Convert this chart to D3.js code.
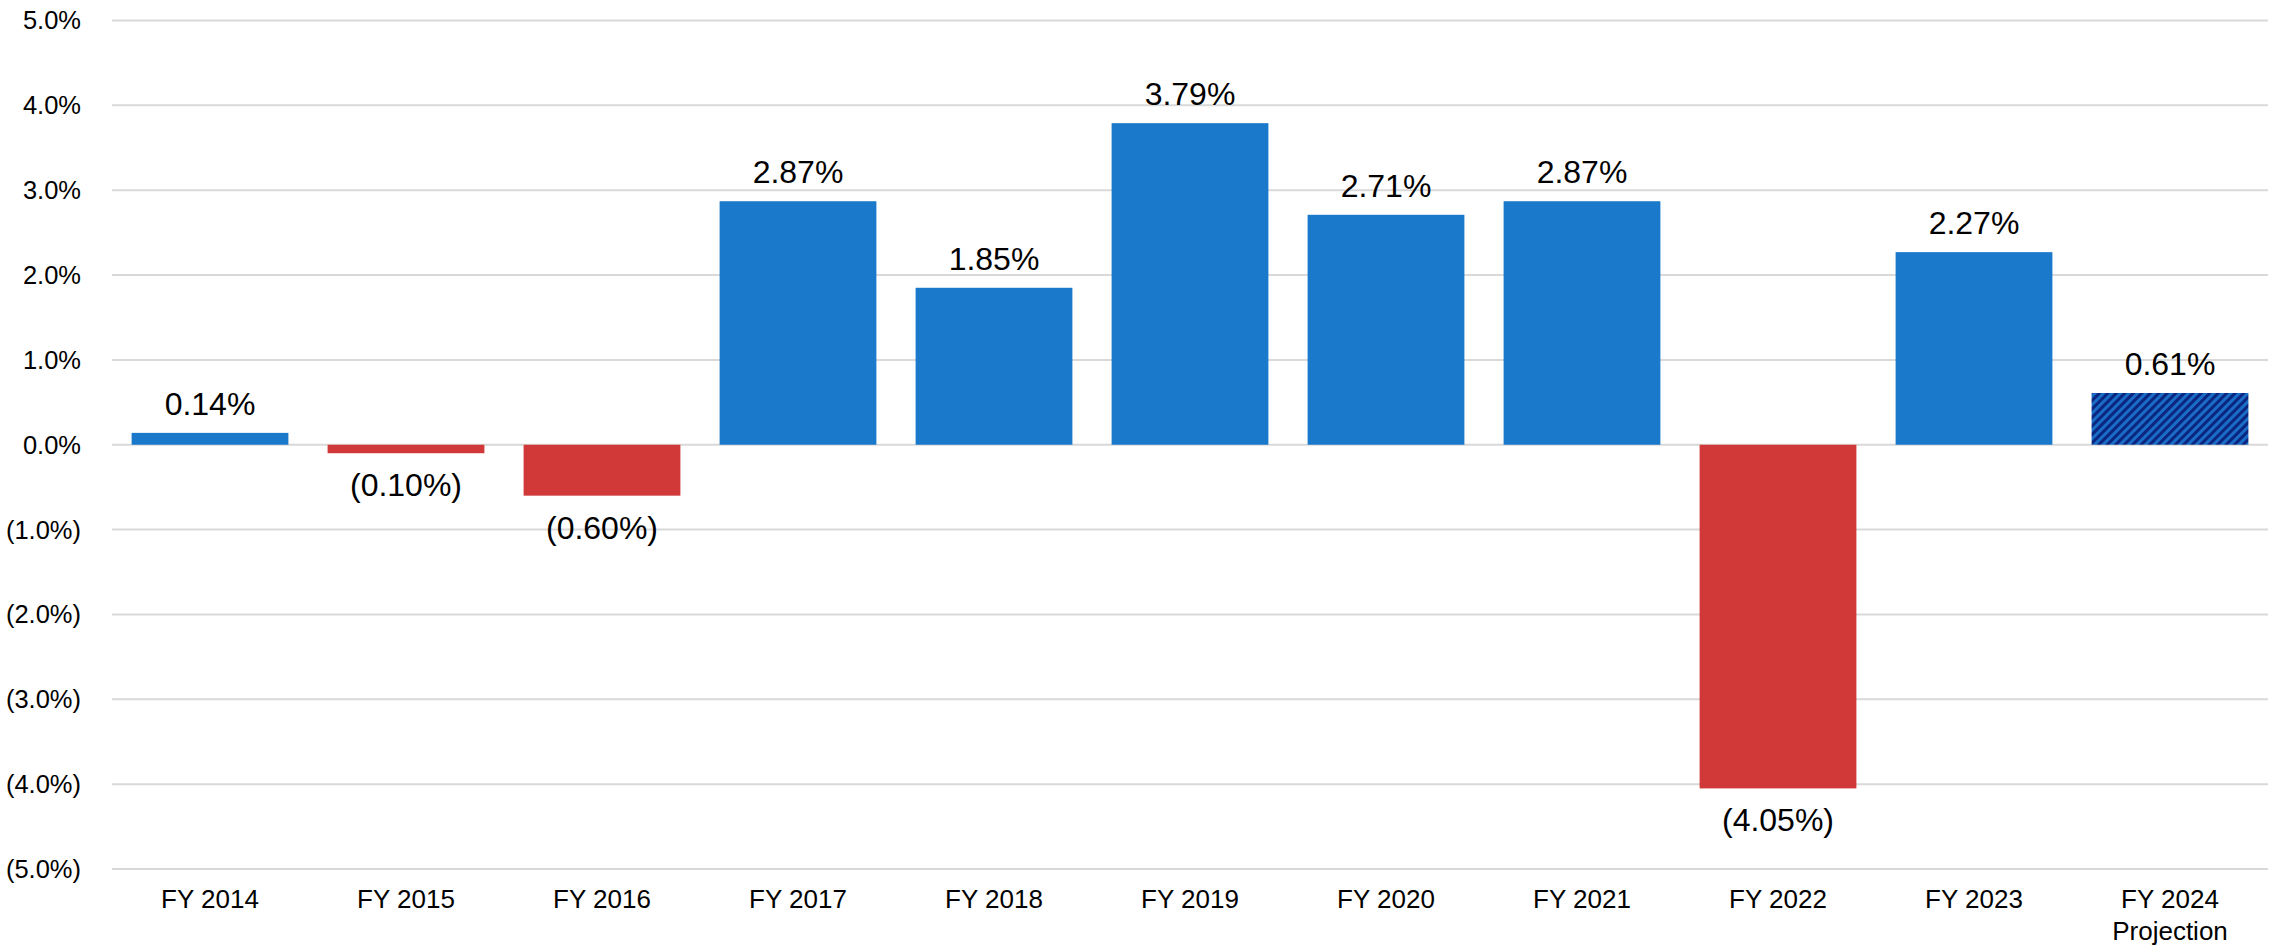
<!DOCTYPE html>
<html>
<head>
<meta charset="utf-8">
<script src="https://cdn.jsdelivr.net/npm/d3@7"></script>
<style>
html,body{margin:0;padding:0;background:#fff;}
svg{display:block;font-family:"Liberation Sans",Arial,sans-serif;}
</style>
</head>
<body>
<svg id="chart" width="2272" height="946"></svg>
<script>
const categories = ["FY 2014","FY 2015","FY 2016","FY 2017","FY 2018","FY 2019","FY 2020","FY 2021","FY 2022","FY 2023","FY 2024\nProjection"];
const values = [0.14,-0.10,-0.60,2.87,1.85,3.79,2.71,2.87,-4.05,2.27,0.61];
const projected = [false,false,false,false,false,false,false,false,false,false,true];
const yTicks = [5,4,3,2,1,0,-1,-2,-3,-4,-5];

const W = 2272, H = 946;
const margin = {left:112, right:4, top:20.5, bottom:77};
const svg = d3.select("#chart");

const defs = svg.append("defs");
const pat = defs.append("pattern").attr("id","hatch").attr("patternUnits","userSpaceOnUse")
  .attr("width",6).attr("height",6).attr("patternTransform","rotate(45)");
pat.append("rect").attr("width",6).attr("height",6).attr("fill","#0a2680");
pat.append("rect").attr("x",0).attr("width",3).attr("height",6).attr("fill","#1a6cc6");

const x = d3.scaleBand().domain(categories).range([margin.left, W - margin.right]).paddingInner(0.2).paddingOuter(0.1);
const y = d3.scaleLinear().domain([-5,5]).range([H - margin.bottom, margin.top]);

const fmtTick = v => v < 0 ? "(" + Math.abs(v).toFixed(1) + "%)" : v.toFixed(1) + "%";
const fmtVal = v => v < 0 ? "(" + Math.abs(v).toFixed(2) + "%)" : v.toFixed(2) + "%";

// gridlines
svg.append("g").selectAll("line").data(yTicks).join("line")
  .attr("x1", margin.left).attr("x2", W - margin.right)
  .attr("y1", d => y(d)).attr("y2", d => y(d))
  .attr("stroke","#d9d9d9").attr("stroke-width",2);

// y labels
svg.append("g").selectAll("text").data(yTicks).join("text")
  .attr("x", 81).attr("y", d => y(d)).attr("dy","0.35em")
  .attr("text-anchor","end").attr("font-size",25.5).attr("fill","#000")
  .text(fmtTick);

// bars
svg.append("g").selectAll("rect").data(categories).join("rect")
  .attr("x", d => x(d)).attr("width", x.bandwidth())
  .attr("y", (d,i) => y(Math.max(0, values[i])))
  .attr("height", (d,i) => Math.abs(y(values[i]) - y(0)))
  .attr("fill", (d,i) => projected[i] ? "url(#hatch)" : (values[i] < 0 ? "#d13838" : "#1b79cc"));

// value labels
svg.append("g").selectAll("text").data(categories).join("text")
  .attr("x", d => x(d) + x.bandwidth()/2)
  .attr("y", (d,i) => values[i] >= 0 ? y(values[i]) - 18 : y(values[i]) + 43)
  .attr("text-anchor","middle").attr("font-size",32).attr("fill","#000")
  .text((d,i) => fmtVal(values[i]));

// x labels
const xl = svg.append("g").selectAll("text").data(categories).join("text")
  .attr("x", d => x(d) + x.bandwidth()/2)
  .attr("y", 908)
  .attr("text-anchor","middle").attr("font-size",26).attr("fill","#000");
xl.each(function(d){
  const parts = d.split("\n");
  const t = d3.select(this);
  parts.forEach((p,k) => {
    t.append("tspan").attr("x", x(d) + x.bandwidth()/2).attr("dy", k === 0 ? 0 : 32).text(p);
  });
});
</script>
</body>
</html>
